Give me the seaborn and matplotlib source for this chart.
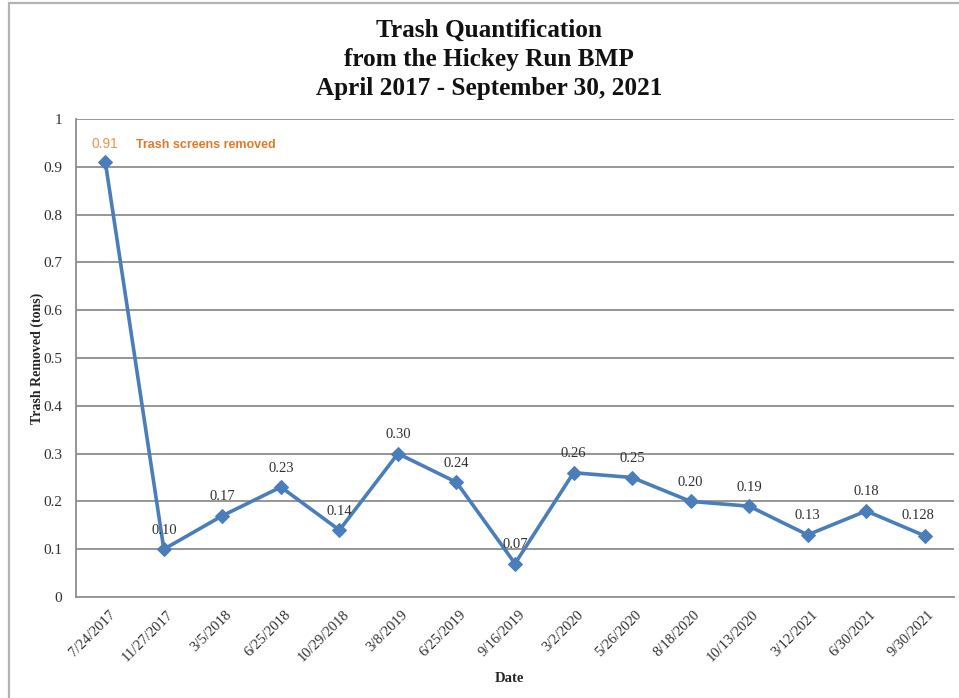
import matplotlib
matplotlib.use("Agg")
import matplotlib.pyplot as plt
import matplotlib.transforms as mtransforms
from matplotlib.patches import Rectangle
import seaborn as sns
import pandas as pd
import numpy as np

dates = ["7/24/2017", "11/27/2017", "3/5/2018", "6/25/2018", "10/29/2018",
         "3/8/2019", "6/25/2019", "9/16/2019", "3/2/2020", "5/26/2020",
         "8/18/2020", "10/13/2020", "3/12/2021", "6/30/2021", "9/30/2021"]
tons = [0.91, 0.10, 0.17, 0.23, 0.14, 0.30, 0.24, 0.07, 0.26, 0.25,
        0.20, 0.19, 0.13, 0.18, 0.128]
labels = ["0.91", "0.10", "0.17", "0.23", "0.14", "0.30", "0.24", "0.07",
          "0.26", "0.25", "0.20", "0.19", "0.13", "0.18", "0.128"]
yticks = [0, 0.1, 0.2, 0.3, 0.4, 0.5, 0.6, 0.7, 0.8, 0.9, 1]
ytick_labels = ["0", "0.1", "0.2", "0.3", "0.4", "0.5", "0.6", "0.7", "0.8", "0.9", "1"]
note = "Trash screens removed"

df = pd.DataFrame({"Date": dates, "tons": tons})

sns.set_theme(style="white")
plt.rcParams["font.family"] = ["Liberation Serif", "DejaVu Serif"]

fig = plt.figure(figsize=(9.59, 6.98), dpi=100)
ax = fig.add_axes([0.0793, 0.1447, 0.9155, 0.6848])

grid_c = "#8e8e8e"
line_c = "#4a7ebb"

ax.set_ylim(0, 1)
ax.set_yticks(yticks)
ax.set_yticklabels(ytick_labels)
for y in yticks[1:]:
    ax.axhline(y, color=grid_c, lw=1.3, zorder=0)

sns.lineplot(data=df, x="Date", y="tons", sort=False, ax=ax, color=line_c,
             lw=2.6, marker="D", markersize=7, markeredgecolor=line_c,
             markerfacecolor=line_c, zorder=3)

n = len(dates)
ax.set_xlim(-0.5, n - 0.5)
ax.set_xticks(range(n))
ax.set_xticklabels(dates, rotation=45, ha="right", rotation_mode="anchor",
                   fontsize=10.5, color="#303030")
ax.set_xticks(np.arange(-0.5, n, 1.0), minor=True)
ax.tick_params(axis="x", which="major", length=0, pad=8)
ax.tick_params(axis="x", which="minor", length=5, width=1.2, color=grid_c,
               direction="out")
ax.tick_params(axis="y", which="major", length=5, width=1.2, color=grid_c,
               direction="out", labelsize=11, labelcolor="#303030", pad=5)
offset = mtransforms.ScaledTranslation(3 / 100, 0, fig.dpi_scale_trans)
for lab in ax.get_xticklabels():
    lab.set_transform(lab.get_transform() + offset)

for s in ["top", "right"]:
    ax.spines[s].set_visible(False)
for s in ["left", "bottom"]:
    ax.spines[s].set_color(grid_c)
    ax.spines[s].set_linewidth(1.3)

ax.set_xlabel("Date", fontsize=10.5, fontweight="bold")
ax.set_ylabel("Trash Removed (tons)", fontsize=10, fontweight="bold")
ax.xaxis.set_label_coords(0.494, -0.157)
ax.yaxis.set_label_coords(-0.037, 0.5)

for i, (v, t) in enumerate(zip(tons, labels)):
    if i == 0:
        ax.annotate(t, (i, v), xytext=(0, 8), textcoords="offset points",
                    ha="center", va="bottom", fontsize=10, color="#e8944a",
                    family=["Liberation Sans", "DejaVu Sans"])
    elif i == n - 1:
        ax.annotate(t, (i, v), xytext=(-5, 10), textcoords="offset points",
                    ha="center", va="bottom", fontsize=10.5, color="#303030")
    else:
        ax.annotate(t, (i, v), xytext=(0, 9), textcoords="offset points",
                    ha="center", va="bottom", fontsize=10.5, color="#303030")

ax.annotate(note, (0, tons[0]), xytext=(22, 8), textcoords="offset points",
            ha="left", va="bottom", fontsize=9, fontweight="bold",
            color="#e07a28", family=["Liberation Sans", "DejaVu Sans"])

fig.text(0.51, 0.915, "Trash Quantification\nfrom the Hickey Run BMP\nApril 2017 - September 30, 2021",
         ha="center", va="center", fontsize=18.2, fontweight="bold",
         linespacing=1.32, color="#111111")

fig.patches.append(Rectangle((9 / 959, -0.1), 1.2, 1 - 3 / 698 + 0.1,
                             transform=fig.transFigure, fill=False,
                             edgecolor="#b4b4b4", lw=1.6, zorder=0))

fig.savefig("out.png", dpi=100)
